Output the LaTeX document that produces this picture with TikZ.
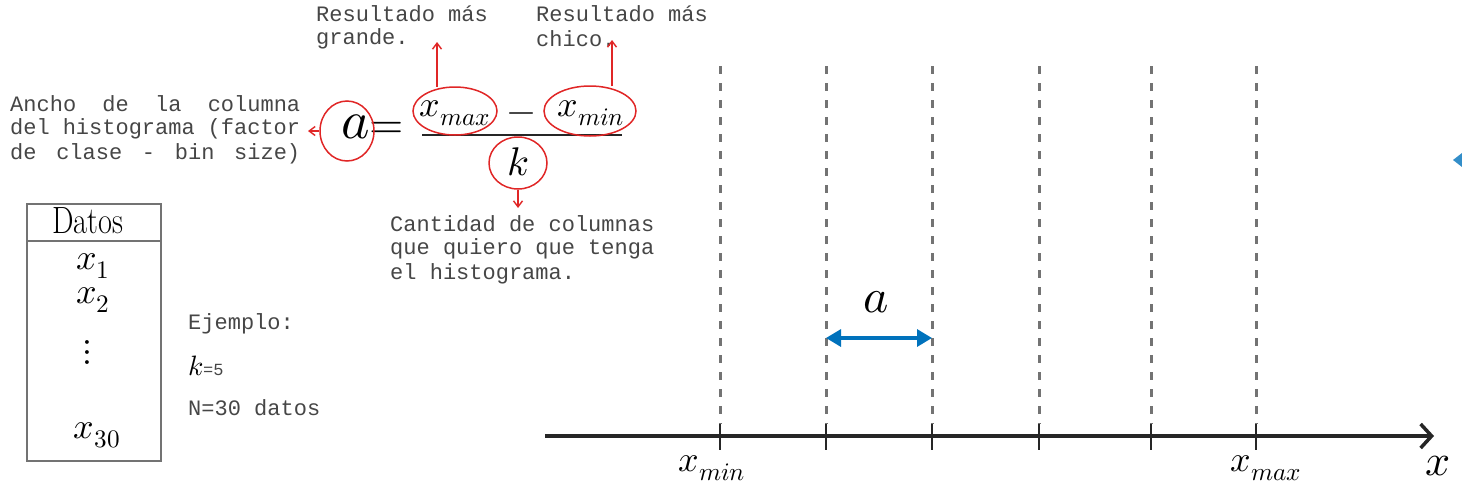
\documentclass[tikz,border=0pt]{standalone}
\usepackage{fontspec}
\usepackage{unicode-math}
\setmathfont{Latin Modern Math}
\newfontfamily\cour{Liberation Mono}
\usetikzlibrary{arrows.meta,shapes.geometric}
\definecolor{myred}{RGB}{224,38,38}
\definecolor{myblue}{RGB}{0,114,188}
\definecolor{dgray}{RGB}{115,115,115}
\definecolor{txtgray}{RGB}{70,70,70}
\newcommand\fsz[1]{\fontsize{#1}{#1}\selectfont}
\begin{document}
\begin{tikzpicture}[x=1pt,y=-1pt,
 mono/.style={font=\cour\fsz{22}, text=txtgray, inner sep=0, anchor=west},
 redarrow/.style={myred, line width=1.4, -{Straight Barb[length=6,width=9]}},
 ring/.style={ellipse, draw=myred, line width=1.5, inner sep=0},
 mathtxt/.style={inner sep=0},
 gridline/.style={dgray, line width=3, dash pattern=on 8pt off 9pt},
 tickmark/.style={line width=2.5, black!85}]
\useasboundingbox (0,0) rectangle (1462,488);

% texts top
\node[mono] (r1a) at (316,14) {Resultado más};
\node[mono] (r1b) at (316,39) {grande.};
\node[mono] (r2a) at (536,14) {Resultado más};
\node[mono] (r2b) at (536,39) {chico.};
\node[mono] (an1) at (10,104) {\makebox[290pt][s]{Ancho de la columna}};
\node[mono] (an2) at (10,129) {\makebox[290pt][s]{del histograma (factor}};
\node[mono] (an3) at (10,154) {\makebox[290pt][s]{de clase - bin size)}};
\node[mono] (c1) at (390,224) {Cantidad de columnas};
\node[mono] (c2) at (390,249) {que quiero que tenga};
\node[mono] (c3) at (390,274) {el histograma.};

% formula
\node[mathtxt, font=\fsz{54}] (fa) at (356,127) {$a$};
\node[mathtxt, font=\fsz{44}] (feq) at (387,130) {$=$};
\node[mathtxt, font=\fsz{36}] (fxmax) at (455,113) {$x_{max}$};
\node[mathtxt, font=\fsz{36}] (fminus) at (521,118) {$-$};
\node[mathtxt, font=\fsz{36}] (fxmin) at (591,113) {$x_{min}$};
\node[mathtxt, font=\fsz{40}] (fk) at (518,162) {$k$};
\draw[line width=1.8, black!85] (422,135) -- (622,135);

\node[ring, minimum width=54, minimum height=60] (ca) at (347,131) {};
\node[ring, minimum width=84, minimum height=48] (cxmax) at (455,111) {};
\node[ring, minimum width=92, minimum height=50] (cxmin) at (590,111) {};
\node[ring, minimum width=58, minimum height=52] (ck) at (518,163) {};

\coordinate (tmax) at (437,42);
\coordinate (tmin) at (612,40);
\coordinate (tan) at (308,131);
\coordinate (tkk) at (518,208);
\draw[redarrow] (tmax |- cxmax.112) -- (tmax);
\draw[redarrow] (tmin |- cxmin.62) -- (tmin);
\draw[redarrow] (ca.west) -- (tan);
\draw[redarrow] (ck.south) -- (tkk);

% table
\draw[dgray, line width=1.3] (27,204) rectangle (161,461);
\draw[dgray, line width=1.3] (27,241) -- (161,241);
\node[mathtxt, font=\fsz{38}, xscale=0.8] (datos) at (88,221) {Datos};
\node[mathtxt, font=\fsz{36}] (x1) at (93,266) {$x_1$};
\node[mathtxt, font=\fsz{36}] (x2) at (93,300) {$x_2$};
\node[mathtxt, font=\fsz{36}] (xd) at (87,352) {$\vdots$};
\node[mathtxt, font=\fsz{36}] (x30) at (97,435) {$x_{30}$};

\node[mono] (ej) at (188,324) {Ejemplo:};
\node[mono, text=black] (kk) at (188,366) {{\fsz{28}$k$}{\color{txtgray}\fsz{17}=5}};
\node[mono] (nn) at (188,408) {N=30 datos};

% axis
\coordinate (axs) at (545,436);
\coordinate (axe) at (1434,436);
\foreach \i/\xx in {1/720,2/826,3/932,4/1039,5/1151,6/1256}{
  \coordinate (top\i) at (\xx,66);
  \coordinate (tk\i) at (\xx,424);
  \coordinate (bt\i) at (\xx,450);
  \draw[gridline] (top\i) -- (tk\i);
  \draw[tickmark] (tk\i) -- (bt\i);
}
\draw[line width=3.5, black!85, -{Straight Barb[length=11,width=24,line width=3.5]}] (axs) -- (axe);

\node[mathtxt, font=\fsz{36}] (lxmin) at (712,468) {$x_{min}$};
\node[mathtxt, font=\fsz{36}] (lxmax) at (1266,468) {$x_{max}$};
\node[mathtxt, font=\fsz{44}] (lx) at (1438,466) {$x$};

\coordinate (b1) at (826,338);
\coordinate (b2) at (932,338);
\draw[myblue, line width=3.2, {Triangle[length=15,width=17]}-{Triangle[length=15,width=17]}] (b1) -- (b2);
\node[mathtxt, font=\fsz{48}] (la) at (876,302) {$a$};

% partial blue shape at right edge
\fill[myblue!80] (1453,160) -- (1462,153) -- (1462,167) -- cycle;
\end{tikzpicture}
\end{document}
